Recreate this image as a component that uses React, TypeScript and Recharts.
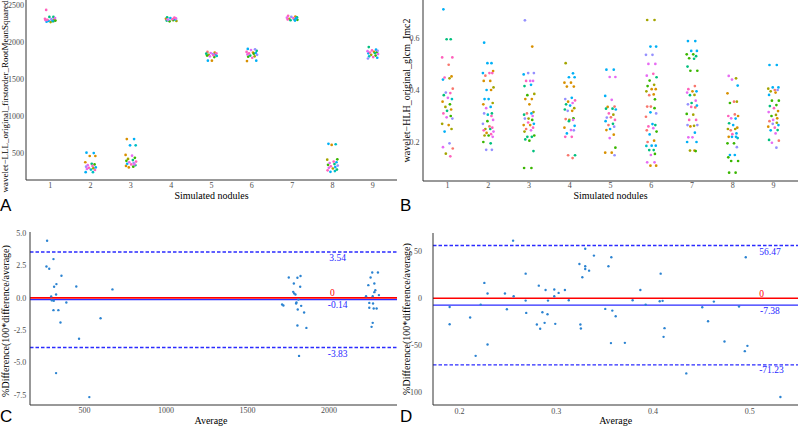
import React from 'react';
import { ScatterChart, Scatter, XAxis, YAxis, ReferenceLine } from 'recharts';

const SERIF = '"Liberation Serif", "Times New Roman", Times, serif';
const SANS = '"Liberation Sans", Arial, Helvetica, sans-serif';

// ggplot hue palette, 10 groups; codes map to palette index
const PALETTE = ['#F8766D', '#D89000', '#A3A500', '#39B600', '#00BF7D', '#00BFC4', '#00B0F6', '#9590FF', '#E76BF3', '#FF62BC'];
const CODES = 'sovgtcblmp';

const nodules = [1, 2, 3, 4, 5, 6, 7, 8, 9];
// hand-read horizontal jitter offsets (in nodule units)
const jitter = [-0.1, 0.08, -0.02, 0.12, -0.13, 0.03, 0.1, -0.07, 0.05, -0.11, 0.13, -0.04, 0.07, -0.09, 0.01, 0.11, -0.12, 0.06, -0.05, 0.09, -0.01];

// Panel A: wavelet-LLL_original_firstorder_RootMeanSquared
const rmsValues: number[][] = [
  [2440, 2345, 2345, 2330, 2320, 2315, 2310, 2305, 2300, 2300, 2295, 2290, 2285, 2280, 2275, 2290, 2310],
  [500, 495, 455, 455, 370, 350, 340, 330, 320, 310, 300, 295, 290, 280, 270, 265, 235, 235],
  [685, 685, 600, 600, 470, 460, 430, 415, 400, 390, 380, 370, 360, 350, 340, 330, 320, 310, 300, 340],
  [2340, 2335, 2330, 2325, 2320, 2315, 2310, 2305, 2300, 2295, 2290, 2285, 2320, 2310],
  [1870, 1860, 1855, 1850, 1845, 1840, 1835, 1830, 1825, 1820, 1815, 1810, 1800, 1750, 1750],
  [1910, 1905, 1895, 1885, 1870, 1860, 1855, 1850, 1845, 1835, 1830, 1820, 1810, 1805, 1790, 1750, 1745],
  [2360, 2350, 2345, 2340, 2335, 2330, 2325, 2320, 2315, 2310, 2305, 2300, 2295],
  [620, 615, 605, 410, 405, 380, 370, 360, 345, 335, 325, 315, 305, 295, 285, 270, 260, 250, 240],
  [1935, 1900, 1890, 1885, 1880, 1870, 1865, 1860, 1855, 1850, 1840, 1830, 1820, 1810, 1800, 1790, 1780],
];
const rmsColors: string[] = [
  'pttmplopbmgbtbvsp',
  'bboootgmplbpvmcpbc',
  'obbcomgvtgpmlbptogom',
  'tpbmopblgtvgsm',
  'somptlbvpgcmgbo',
  'blmtpobpgmltvgpbo',
  'poltmpbvcpgtb',
  'bcogvpbmtglpbmvtpcb',
  'tbplmogptbmvgcpbl',
];

// Panel B: wavelet-HLH_original_glcm_Imc2
const imcValues: number[][] = [
  [0.71, 0.595, 0.595, 0.525, 0.525, 0.497, 0.452, 0.448, 0.445, 0.44, 0.405, 0.39, 0.388, 0.38, 0.37, 0.365, 0.355, 0.345, 0.335, 0.325, 0.32, 0.31, 0.3, 0.295, 0.29, 0.27, 0.265, 0.25, 0.24, 0.195, 0.18, 0.175, 0.155, 0.145],
  [0.582, 0.503, 0.503, 0.473, 0.465, 0.465, 0.465, 0.455, 0.435, 0.435, 0.41, 0.4, 0.4, 0.365, 0.365, 0.35, 0.345, 0.335, 0.33, 0.31, 0.305, 0.31, 0.3, 0.28, 0.285, 0.27, 0.26, 0.255, 0.25, 0.25, 0.245, 0.24, 0.235, 0.23, 0.225, 0.225, 0.22, 0.2, 0.195, 0.17, 0.17],
  [0.668, 0.567, 0.465, 0.465, 0.46, 0.435, 0.435, 0.435, 0.42, 0.415, 0.385, 0.38, 0.365, 0.365, 0.345, 0.315, 0.305, 0.31, 0.31, 0.3, 0.29, 0.29, 0.285, 0.275, 0.27, 0.265, 0.265, 0.255, 0.25, 0.245, 0.24, 0.225, 0.22, 0.22, 0.21, 0.205, 0.165, 0.1, 0.1],
  [0.503, 0.464, 0.449, 0.449, 0.428, 0.428, 0.413, 0.413, 0.37, 0.365, 0.36, 0.355, 0.35, 0.345, 0.34, 0.33, 0.325, 0.32, 0.32, 0.291, 0.285, 0.288, 0.285, 0.28, 0.262, 0.255, 0.246, 0.245, 0.233, 0.22, 0.22, 0.149, 0.149, 0.138],
  [0.478, 0.478, 0.45, 0.45, 0.377, 0.362, 0.336, 0.335, 0.328, 0.328, 0.325, 0.31, 0.305, 0.294, 0.295, 0.285, 0.28, 0.27, 0.265, 0.259, 0.25, 0.246, 0.228, 0.215, 0.178, 0.159, 0.159, 0.149],
  [0.669, 0.669, 0.567, 0.567, 0.535, 0.535, 0.5, 0.5, 0.462, 0.455, 0.449, 0.436, 0.42, 0.415, 0.403, 0.403, 0.395, 0.383, 0.38, 0.364, 0.336, 0.336, 0.33, 0.314, 0.31, 0.297, 0.269, 0.265, 0.26, 0.253, 0.245, 0.24, 0.229, 0.205, 0.2, 0.186, 0.186, 0.185, 0.169, 0.169, 0.154, 0.15, 0.122, 0.122, 0.109, 0.109],
  [0.588, 0.588, 0.55, 0.55, 0.537, 0.537, 0.53, 0.522, 0.52, 0.49, 0.474, 0.474, 0.415, 0.403, 0.395, 0.395, 0.39, 0.381, 0.38, 0.359, 0.35, 0.345, 0.333, 0.335, 0.34, 0.308, 0.305, 0.285, 0.285, 0.262, 0.265, 0.265, 0.26, 0.236, 0.218, 0.218, 0.2, 0.2, 0.167, 0.167, 0.165],
  [0.454, 0.445, 0.44, 0.417, 0.387, 0.355, 0.355, 0.35, 0.306, 0.3, 0.3, 0.291, 0.29, 0.272, 0.265, 0.255, 0.25, 0.25, 0.245, 0.233, 0.23, 0.22, 0.22, 0.22, 0.215, 0.195, 0.195, 0.18, 0.15, 0.15, 0.141, 0.127, 0.127, 0.082, 0.082],
  [0.496, 0.496, 0.41, 0.41, 0.405, 0.4, 0.4, 0.395, 0.39, 0.381, 0.359, 0.359, 0.342, 0.338, 0.33, 0.319, 0.315, 0.304, 0.3, 0.291, 0.285, 0.28, 0.274, 0.27, 0.265, 0.259, 0.255, 0.246, 0.245, 0.233, 0.208, 0.205, 0.197, 0.178],
];
const imcColors: string[] = [
  'bttppsopvbslptmcogvotpgmlvovblmsvp',
  'bbbobppsoovbobbvobmtclpgmlspvtpmopvgmgtll',
  'lollbmmpbtvgooovtbsmvlgpboopsmvgtttgtgg',
  'vbbbooooblpomtbvtolgvsmtbomlbppts',
  'bbmmbmsottbpvlspbtslboomgool',
  'vvbbllmmpmtgvgoovosgssgblsbtpmsgbosbbcttgmmmoo',
  'bbbbggtgttggspobmvtmtlspbgvppvllobmmbbovg',
  'mvmbosvgspombtbovvsbpobbcgglbbggggg',
  'bbbbvslvobgggtpomvgomsvlboptbmtsml',
];

// Panel C: Bland-Altman, RootMeanSquared
const baRmsAverage = [
  270, 309, 266, 283, 358, 327, 313, 449, 671, 325, 295, 299, 311, 388, 309, 339, 352, 598, 466, 325, 529,
  1753, 1784, 1806, 1825, 1823, 1780, 1786, 1794, 1712, 1720, 1798, 1800, 1812, 1829, 1808, 1847, 1806, 1861, 1816,
  2255, 2265, 2300, 2241, 2278, 2284, 2278, 2306, 2227, 2268, 2247, 2270, 2247, 2274, 2292, 2268, 2261,
];
const baRmsDiff = [
  4.4, 2.99, 2.42, 2.24, 1.7, 1.06, 0.85, 0.88, 0.65, 0.26, 0.11, -0.2, -0.23, -0.36, -0.95, -0.95, -1.9, -1.57, -3.16, -5.81, -7.66,
  1.57, 1.11, 1.55, 1.68, 0.85, 0.46, 0.34, 0.26, -0.52, -0.59, -0.44, -0.36, -0.13, -0.62, -0.9, -1.13, -2.14, -2.32, -4.48,
  1.57, 1.96, 1.96, 0.98, 1.11, 0.59, 0.44, 0.21, 0.13, 0.13, -0.39, -0.44, -0.77, -0.82, -0.82, -1.93, -2.24,
];
const rmsMean = -0.14;
const rmsUpper = 3.54;
const rmsLower = -3.83;

// Panel D: Bland-Altman, glcm_Imc2
const baImcAverage = [
  0.2554, 0.33, 0.339, 0.357, 0.496, 0.324, 0.354, 0.33, 0.33, 0.334, 0.327, 0.2257, 0.2684, 0.408, 0.282, 0.289,
  0.298, 0.309, 0.387, 0.229, 0.247, 0.256, 0.298, 0.3025, 0.313, 0.2684, 0.2915, 0.379, 0.2219, 0.3925, 0.407, 0.41,
  0.463, 0.1898, 0.451, 0.489, 0.249, 0.3507, 0.358, 0.269, 0.2857, 0.291, 0.3615, 0.211, 0.457, 0.28, 0.288, 0.299,
  0.325, 0.1898, 0.2834, 0.3255, 0.412, 0.411, 0.3566, 0.371, 0.474, 0.229, 0.4977, 0.495, 0.2167, 0.4345, 0.5318,
];
const baImcDiff = [
  61.6, 53.0, 45.6, 43.8, 43.8, 36.7, 34.2, 34.2, 31.3, 29.5, 22.4, 16.4, 26.3, 26.3, 13.5, 8.9,
  9.3, 8.9, 8.9, 5.0, 5.0, 2.1, 2.1, 5.7, -2.1, -2.5, -2.5, -2.1, -6.8, -6.8, -3.2, -2.8,
  -3.6, -9.3, -9.6, -8.9, -11.7, -11.4, -13.2, -15.7, -14.9, -17.1, -19.2, -20.6, -24.6, -28.1, -26.3, -27.4,
  -28.1, -27.8, -32.7, -32.4, -32.0, -41.3, -48.0, -47.7, -46.3, -49.5, -50.9, -56.6, -61.6, -80.4, -105.7,
];
const imcMean = -7.38;
const imcUpper = 56.47;
const imcLower = -71.23;

type Pt = { x: number; y: number };

function jitterGroups(values: number[][], colors: string[]): Pt[][] {
  const groups: Pt[][] = PALETTE.map(() => []);
  values.forEach((col, i) => {
    col.forEach((v, j) => {
      const k = CODES.indexOf(colors[i][j]);
      groups[k >= 0 ? k : 0].push({ x: nodules[i] + jitter[j % jitter.length], y: v });
    });
  });
  return groups;
}

const groupsA = jitterGroups(rmsValues, rmsColors);
const groupsB = jitterGroups(imcValues, imcColors);
const pointsC: Pt[] = baRmsAverage.map((x, i) => ({ x, y: baRmsDiff[i] }));
const pointsD: Pt[] = baImcAverage.map((x, i) => ({ x, y: baImcDiff[i] }));

type Lab = { x: number; y: number; text: string; color: string; dy: number };
const labelsC: Lab[] = [
  { x: 2053, y: rmsUpper, text: rmsUpper.toFixed(2), color: '#1F1FFF', dy: 9.5 },
  { x: 2020, y: 0, text: '0', color: '#FF0000', dy: -1.5 },
  { x: 2053, y: rmsMean, text: rmsMean.toFixed(2), color: '#1F1FFF', dy: 8.8 },
  { x: 2053, y: rmsLower, text: rmsLower.toFixed(2), color: '#1F1FFF', dy: 9.3 },
];
const labelsD: Lab[] = [
  { x: 0.521, y: imcUpper, text: imcUpper.toFixed(2), color: '#1F1FFF', dy: 9.3 },
  { x: 0.5125, y: 0, text: '0', color: '#FF0000', dy: -1.5 },
  { x: 0.521, y: imcMean, text: imcMean.toFixed(2), color: '#1F1FFF', dy: 9.3 },
  { x: 0.5225, y: imcLower, text: imcLower.toFixed(2), color: '#1F1FFF', dy: 8.5 },
];

const dot = (fill: string, r: number) => (p: any) =>
  p && p.cx != null ? <circle cx={p.cx} cy={p.cy} r={r} fill={fill} /> : <g />;

const labelShape = (p: any) =>
  p && p.cx != null ? (
    <text x={p.cx} y={p.cy + p.payload.dy} textAnchor="middle" fontFamily={SERIF} fontSize={9.5} fill={p.payload.color}>
      {p.payload.text}
    </text>
  ) : (
    <g />
  );

const axisLine = { stroke: '#333333', strokeWidth: 1 };
const tickStyle = { fontSize: 8, fill: '#4D4D4D', fontFamily: SERIF };
const BA_POINT = '#2B83D1';
const BLUE = '#2B2BFF';

export default function App() {
  return (
    <div style={{ position: 'absolute', left: 0, top: 0, width: 800, height: 426, background: '#fff', overflow: 'hidden' }}>
      {/* Panel A */}
      <div style={{ position: 'absolute', left: 0, top: 0 }}>
        <ScatterChart width={400} height={200} margin={{ top: 0, right: 3, bottom: 0, left: 0 }}>
          <XAxis type="number" dataKey="x" domain={[0.4, 9.6]} ticks={nodules} interval={0} height={20}
            axisLine={axisLine} tickLine={false} tickSize={0} tickMargin={2.3} tick={tickStyle} allowDataOverflow />
          <YAxis type="number" dataKey="y" domain={[129, 2575]} ticks={[500, 1000, 1500, 2000, 2500]} interval={0} width={26}
            axisLine={axisLine} tickLine={false} tickSize={0} tickMargin={2} tick={tickStyle} allowDataOverflow />
          {groupsA.map((g, k) => (
            <Scatter key={k} data={g} isAnimationActive={false} shape={dot(PALETTE[k], 1.35)} />
          ))}
        </ScatterChart>
      </div>

      {/* Panel B */}
      <div style={{ position: 'absolute', left: 400, top: 0 }}>
        <ScatterChart width={400} height={200} margin={{ top: 0, right: 2, bottom: 0, left: 0 }}>
          <XAxis type="number" dataKey="x" domain={[0.4, 9.6]} ticks={nodules} interval={0} height={19}
            axisLine={axisLine} tickLine={false} tickSize={0} tickMargin={1.5} tick={tickStyle} allowDataOverflow />
          <YAxis type="number" dataKey="y" domain={[0.05, 0.746]} ticks={[0.2, 0.4, 0.6]} interval={0} width={23}
            tickFormatter={(v: number) => v.toFixed(1)}
            axisLine={axisLine} tickLine={false} tickSize={0} tickMargin={3.4} tick={tickStyle} allowDataOverflow />
          {groupsB.map((g, k) => (
            <Scatter key={k} data={g} isAnimationActive={false} shape={dot(PALETTE[k], 1.35)} />
          ))}
        </ScatterChart>
      </div>

      {/* Panel C */}
      <div style={{ position: 'absolute', left: 0, top: 213 }}>
        <ScatterChart width={400} height={213} margin={{ top: 19, right: 3, bottom: 0, left: 0 }}>
          <XAxis type="number" dataKey="x" domain={[165, 2417]} ticks={[500, 1000, 1500, 2000]} interval={0} height={21}
            axisLine={axisLine} tickLine={false} tickSize={0} tickMargin={2.6} tick={tickStyle} allowDataOverflow />
          <YAxis type="number" dataKey="y" domain={[-8.27, 5.08]} ticks={[-7.5, -5, -2.5, 0, 2.5, 5]} interval={0} width={30}
            tickFormatter={(v: number) => v.toFixed(1)}
            axisLine={axisLine} tickLine={false} tickSize={0} tickMargin={3.7} tick={tickStyle} allowDataOverflow />
          <ReferenceLine y={rmsUpper} stroke={BLUE} strokeWidth={1.4} strokeDasharray="3.5 2" />
          <ReferenceLine y={rmsLower} stroke={BLUE} strokeWidth={1.4} strokeDasharray="3.5 2" />
          <ReferenceLine y={0} stroke="#FF0000" strokeWidth={1.6} />
          <ReferenceLine y={rmsMean} stroke={BLUE} strokeWidth={1.2} />
          <Scatter data={pointsC} isAnimationActive={false} shape={dot(BA_POINT, 1.2)} />
          <Scatter data={labelsC} isAnimationActive={false} shape={labelShape} />
        </ScatterChart>
      </div>

      {/* Panel D */}
      <div style={{ position: 'absolute', left: 400, top: 213 }}>
        <ScatterChart width={400} height={213} margin={{ top: 20, right: 2, bottom: 0, left: 0 }}>
          <XAxis type="number" dataKey="x" domain={[0.1726, 0.55]} ticks={[0.2, 0.3, 0.4, 0.5]} interval={0} height={21}
            tickFormatter={(v: number) => v.toFixed(1)}
            axisLine={axisLine} tickLine={false} tickSize={0} tickMargin={3.7} tick={tickStyle} allowDataOverflow />
          <YAxis type="number" dataKey="y" domain={[-114.2, 69.8]} ticks={[-100, -50, 0, 50]} interval={0} width={33}
            axisLine={axisLine} tickLine={false} tickSize={0} tickMargin={11} tick={tickStyle} allowDataOverflow />
          <ReferenceLine y={imcUpper} stroke={BLUE} strokeWidth={1.4} strokeDasharray="3.5 2" />
          <ReferenceLine y={imcLower} stroke={BLUE} strokeWidth={1.4} strokeDasharray="3.5 2" />
          <ReferenceLine y={0} stroke="#FF0000" strokeWidth={1.6} />
          <ReferenceLine y={imcMean} stroke={BLUE} strokeWidth={1.2} />
          <Scatter data={pointsD} isAnimationActive={false} shape={dot(BA_POINT, 1.2)} />
          <Scatter data={labelsD} isAnimationActive={false} shape={labelShape} />
        </ScatterChart>
      </div>

      {/* Titles and panel letters */}
      <svg width={800} height={426} style={{ position: 'absolute', left: 0, top: 0, pointerEvents: 'none' }}>
        <g fontFamily={SERIF} fill="#000">
          <text x={4.5} y={96.5} fontSize={9} textAnchor="middle" dominantBaseline="central" transform="rotate(-90 4.5 96.5)">
            wavelet−LLL_original_firstorder_RootMeanSquared
          </text>
          <text x={211.5} y={195} fontSize={10} textAnchor="middle" dominantBaseline="central">Simulated nodules</text>
          <text x={406} y={90.5} fontSize={10} textAnchor="middle" dominantBaseline="central" transform="rotate(-90 406 90.5)">
            wavelet−HLH_original_glcm_Imc2
          </text>
          <text x={610.5} y={195} fontSize={10} textAnchor="middle" dominantBaseline="central">Simulated nodules</text>
          <text x={5.5} y={321} fontSize={10} textAnchor="middle" dominantBaseline="central" transform="rotate(-90 5.5 321)">
            %Difference(100*difference/average)
          </text>
          <text x={211} y={420.5} fontSize={10} textAnchor="middle" dominantBaseline="central">Average</text>
          <text x={406} y={319} fontSize={10} textAnchor="middle" dominantBaseline="central" transform="rotate(-90 406 319)">
            %Difference(100*difference/average)
          </text>
          <text x={615.7} y={420.5} fontSize={10} textAnchor="middle" dominantBaseline="central">Average</text>
        </g>
        <g fontFamily={SANS} fontSize={17} fill="#000">
          <text x={0} y={211}>A</text>
          <text x={400} y={211}>B</text>
          <text x={0} y={422}>C</text>
          <text x={400} y={422}>D</text>
        </g>
      </svg>
    </div>
  );
}
